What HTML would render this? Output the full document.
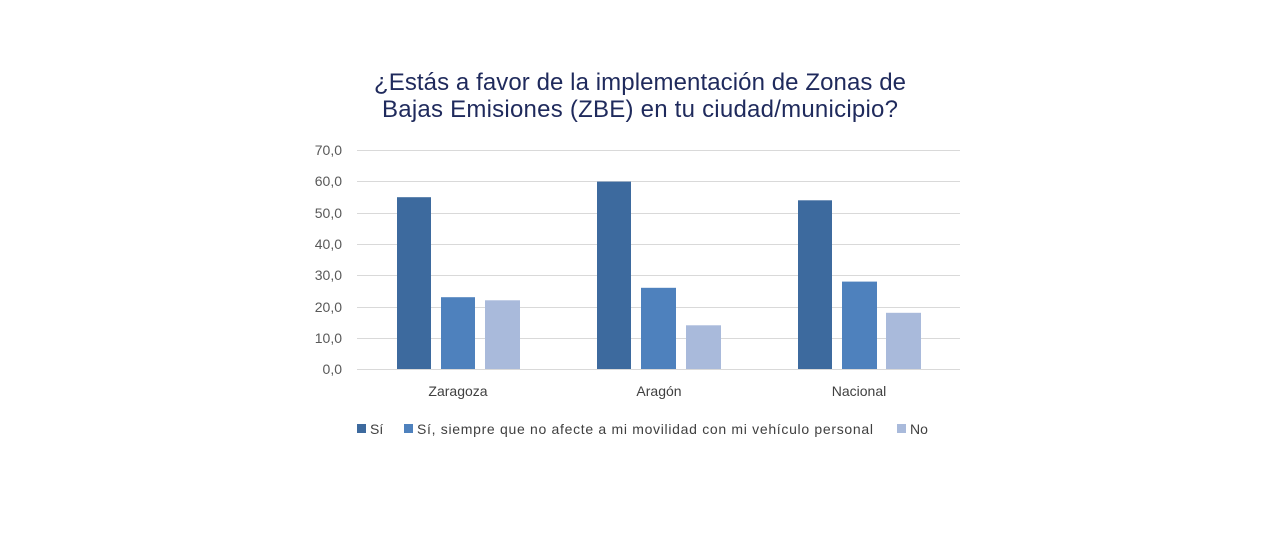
<!DOCTYPE html>
<html><head><meta charset="utf-8"><style>
html,body{margin:0;padding:0;background:#fff;}
svg{display:block;}
</style></head><body>
<svg width="1280" height="533" viewBox="0 0 1280 533" xmlns="http://www.w3.org/2000/svg">
<rect width="1280" height="533" fill="#fff"/>
<g font-family="Liberation Sans, sans-serif" fill="#1f2a5c" font-size="24" text-anchor="middle">
<text x="640" y="90" textLength="532">¿Estás a favor de la implementación de Zonas de</text>
<text x="640" y="117" textLength="516">Bajas Emisiones (ZBE) en tu ciudad/municipio?</text>
</g>
<g stroke="#d9d9d9" stroke-width="1">
<line x1="357" x2="960" y1="150.5" y2="150.5"/>
<line x1="357" x2="960" y1="181.5" y2="181.5"/>
<line x1="357" x2="960" y1="213.5" y2="213.5"/>
<line x1="357" x2="960" y1="244.5" y2="244.5"/>
<line x1="357" x2="960" y1="275.5" y2="275.5"/>
<line x1="357" x2="960" y1="307.5" y2="307.5"/>
<line x1="357" x2="960" y1="338.5" y2="338.5"/>
<line x1="357" x2="960" y1="369.5" y2="369.5"/>
</g>
<g font-family="Liberation Sans, sans-serif" fill="#595959" font-size="14" text-anchor="end">
<text x="342" y="155">70,0</text>
<text x="342" y="186">60,0</text>
<text x="342" y="218">50,0</text>
<text x="342" y="249">40,0</text>
<text x="342" y="280">30,0</text>
<text x="342" y="312">20,0</text>
<text x="342" y="343">10,0</text>
<text x="342" y="374">0,0</text>
</g>
<g>
<rect x="397" y="197.2" width="34" height="171.8" fill="#3d6a9e"/>
<rect x="441" y="297.2" width="34" height="71.8" fill="#4e81bd"/>
<rect x="485" y="300.3" width="35" height="68.7" fill="#a9badb"/>
<rect x="597" y="181.6" width="34" height="187.4" fill="#3d6a9e"/>
<rect x="641" y="287.8" width="35" height="81.2" fill="#4e81bd"/>
<rect x="686" y="325.3" width="35" height="43.7" fill="#a9badb"/>
<rect x="798" y="200.3" width="34" height="168.7" fill="#3d6a9e"/>
<rect x="842" y="281.6" width="35" height="87.4" fill="#4e81bd"/>
<rect x="886" y="312.8" width="35" height="56.2" fill="#a9badb"/>
</g>
<g font-family="Liberation Sans, sans-serif" fill="#404040" font-size="14" text-anchor="middle">
<text x="458" y="396">Zaragoza</text>
<text x="659" y="396">Aragón</text>
<text x="859" y="396">Nacional</text>
</g>
<g font-family="Liberation Sans, sans-serif" fill="#404040" font-size="14">
<rect x="357" y="424" width="9" height="9" fill="#3d6a9e"/>
<text x="370" y="434">Sí</text>
<rect x="404" y="424" width="9" height="9" fill="#4e81bd"/>
<text x="417" y="434" textLength="456">Sí, siempre que no afecte a mi movilidad con mi vehículo personal</text>
<rect x="897" y="424" width="9" height="9" fill="#a9badb"/>
<text x="910" y="434">No</text>
</g>
</svg>
</body></html>
